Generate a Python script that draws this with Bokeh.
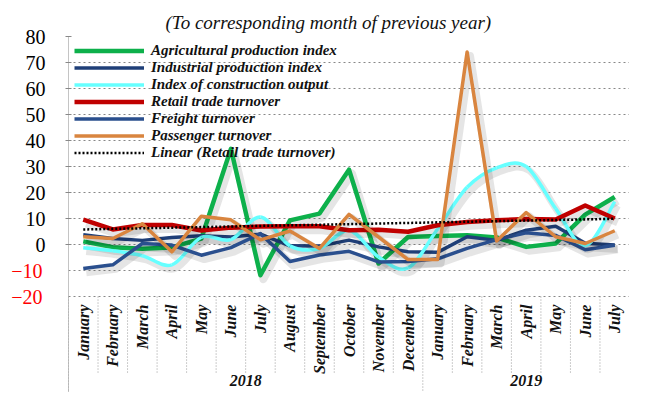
import numpy as np
from bokeh.plotting import figure
from bokeh.models import Range1d, FixedTicker, LinearAxis, Legend, LegendItem
from bokeh.embed import file_html
from bokeh.resources import INLINE
from bokeh.core.properties import value

# ---------------- data ----------------
months = ["January", "February", "March", "April", "May", "June", "July",
          "August", "September", "October", "November", "December",
          "January", "February", "March", "April", "May", "June", "July"]
years = ["2018"] * 12 + ["2019"] * 7

agricultural = [1.2, -1.0, -1.6, -1.1, 2.3, 36.8, -11.8, 9.3, 11.9, 28.8, -7.3, 2.9,
                3.3, 3.6, 2.7, -0.9, 0.4, 11.5, 18.3]
industrial = [3.8, 2.3, 1.6, 2.7, 3.4, 2.9, 4.0, -0.5, -0.6, 1.7, -0.9, -2.8,
              -3.0, 3.0, 1.6, 5.5, 7.0, 0.5, -0.2]
construction = [-1.2, -2.4, -4.3, -7.8, 2.8, 1.9, 10.6, -0.5, -1.5, 5.5, -4.8, -9.0,
                6.0, 22.0, 29.5, 30.0, 13.8, -0.5, 16.5]
retail = [9.6, 5.8, 7.5, 7.5, 5.4, 6.5, 6.9, 7.0, 7.0, 5.5, 5.7, 4.9,
          7.4, 8.7, 9.3, 9.8, 9.6, 15.0, 10.0]
freight = [-9.2, -7.8, 0.4, -0.2, -4.1, -1.2, 4.2, -6.5, -4.0, -2.6, -6.7, -6.5,
           -5.5, -1.5, 1.9, 4.5, 3.5, -2.0, -0.3]
passenger = [3.0, 2.3, 8.0, -2.8, 10.9, 9.5, 1.8, 5.2, -1.5, 11.6, 2.9, -5.8,
             -5.8, 74.0, 1.4, 12.3, 3.0, 0.4, 5.3]

y_ticks_pos = [0, 10, 20, 30, 40, 50, 60, 70, 80]
y_ticks_neg = [-20, -10]

labels = ["Agricultural production index", "Industrial production index",
          "Index of construction output", "Retail trade turnover",
          "Freight turnover", "Passenger turnover",
          "Linear (Retail trade turnover)"]
title_text = "(To corresponding month of previous year)"

# ---------------- styles ----------------
SERIF = "'Liberation Serif', 'Times New Roman', serif"
C_GREEN = "#0DB04B"
C_IND = "#1F3F78"
C_CYAN = "#66FFFF"
C_RED = "#C00000"
C_FREIGHT = "#2A4F8E"
C_ORANGE = "#D9853F"

n = len(months)
xs = np.arange(n) + 0.5
Y_BOTTOM = -56.9

p = figure(width=629, height=392, x_range=Range1d(0, n), y_range=Range1d(Y_BOTTOM, 80),
           x_axis_location=None, y_axis_location="left",
           toolbar_location=None, output_backend="svg",
           min_border_left=68, min_border_right=0, min_border_top=36, min_border_bottom=0,
           outline_line_color=None, background_fill_color="white",
           border_fill_color="white")

p.title.text = title_text
p.title.text_font = SERIF
p.title.text_font_style = "italic"
p.title.text_font_size = "19px"
p.title.text_color = "#111111"
p.title.align = "left"
p.title.offset = 97
p.title.vertical_align = "top"
p.title.standoff = 4

# y axes: inner black positive labels, outer red negative labels
ax = p.yaxis[0]
ax.ticker = FixedTicker(ticks=y_ticks_pos)
ax.major_label_text_font = SERIF
ax.major_label_text_font_size = "20px"
ax.major_label_text_color = "black"
ax.major_label_standoff = 20
ax.major_tick_out = 3
ax.major_tick_in = 3
ax.major_tick_line_color = "#888888"
ax.minor_tick_line_color = None
ax.axis_line_color = "#888888"
ax.axis_line_dash = "1 1"

ax_neg = LinearAxis(ticker=FixedTicker(ticks=y_ticks_neg))
ax_neg.major_label_text_font = SERIF
ax_neg.major_label_text_font_size = "20px"
ax_neg.major_label_text_color = "#FF0000"
ax_neg.major_label_standoff = -20
ax_neg.major_tick_out = 0
ax_neg.major_tick_in = 0
ax_neg.major_tick_line_color = None
ax_neg.minor_tick_line_color = None
ax_neg.axis_line_color = None
p.add_layout(ax_neg, "left")

p.xgrid.visible = False
p.ygrid.ticker = FixedTicker(ticks=y_ticks_neg + y_ticks_pos)
p.ygrid.grid_line_color = "#888888"
p.ygrid.grid_line_dash = "2 3"
p.ygrid.grid_line_width = 1

# category separators and labels (below the -20 line)
bottom_val = y_ticks_neg[0]
bounds = np.arange(n + 1)
year_change = [0] + [i for i in range(1, n) if years[i] != years[i - 1]] + [n]
month_b = [b for b in bounds if b not in year_change]
p.segment(x0=month_b, y0=bottom_val, x1=month_b, y1=bottom_val - 29.5,
          line_color="#999999", line_dash="1 2", line_width=1)
p.segment(x0=year_change, y0=bottom_val, x1=year_change, y1=Y_BOTTOM,
          line_color="#999999", line_dash="1 2", line_width=1)
p.text(x=xs, y=[bottom_val - 3.1] * n, text=months, angle=np.pi / 2,
       text_align="right", text_baseline="middle",
       text_font=value(SERIF), text_font_style="bold italic",
       text_font_size="16px", text_color="#111111")
uniq_years = []
for yv in years:
    if yv not in uniq_years:
        uniq_years.append(yv)
year_x = [float(np.mean([xs[i] for i in range(n) if years[i] == yv])) for yv in uniq_years]
p.text(x=year_x, y=[bottom_val - 32.2] * len(uniq_years), text=uniq_years,
       text_align="center", text_baseline="middle",
       text_font=value(SERIF), text_font_style="bold italic",
       text_font_size="16px", text_color="#111111")

# shadows offsets (px -> data)
SDX, SDY = 0.1, -1.5


def shadow_line(yv):
    p.line(xs + SDX, np.array(yv) + SDY, line_color="black", line_alpha=0.10,
           line_width=8, line_join="round")


renderers = []

shadow_line(agricultural)
renderers.append(p.line(xs, agricultural, line_color=C_GREEN, line_width=4.5, line_join="round"))

shadow_line(industrial)
renderers.append(p.line(xs, industrial, line_color=C_IND, line_width=3.5, line_join="round"))

# smoothed construction line via cubic Bezier segments
c = np.array(construction, dtype=float)
i = np.arange(n - 1)
im = np.clip(i - 1, 0, n - 1)
i2 = np.clip(i + 2, 0, n - 1)
bx0, by0 = xs[i], c[i]
bx1, by1 = xs[i + 1], c[i + 1]
bcx0 = xs[i] + (xs[i + 1] - xs[im]) / 6.0
bcy0 = c[i] + (c[i + 1] - c[im]) / 6.0
bcx1 = xs[i + 1] - (xs[i2] - xs[i]) / 6.0
bcy1 = c[i + 1] - (c[i2] - c[i]) / 6.0
p.bezier(x0=bx0 + SDX, y0=by0 + SDY, x1=bx1 + SDX, y1=by1 + SDY,
         cx0=bcx0 + SDX, cy0=bcy0 + SDY, cx1=bcx1 + SDX, cy1=bcy1 + SDY,
         line_color="black", line_alpha=0.10, line_width=7)
renderers.append(p.bezier(x0=bx0, y0=by0, x1=bx1, y1=by1, cx0=bcx0, cy0=bcy0,
                          cx1=bcx1, cy1=bcy1, line_color=C_CYAN, line_width=3.5))

shadow_line(retail)
renderers.append(p.line(xs, retail, line_color=C_RED, line_width=4.5, line_join="round"))

shadow_line(freight)
renderers.append(p.line(xs, freight, line_color=C_FREIGHT, line_width=3.5, line_join="round"))

shadow_line(passenger)
renderers.append(p.line(xs, passenger, line_color=C_ORANGE, line_width=3.5, line_join="round"))

# linear trend of retail trade turnover
coef = np.polyfit(np.arange(n), np.array(retail), 1)
trend = np.polyval(coef, np.arange(n))
renderers.append(p.line(xs, trend, line_color="black", line_width=2.5, line_dash="2 2"))

legend = Legend(items=[LegendItem(label=lab, renderers=[r]) for lab, r in zip(labels, renderers)],
                location=(6, 231), orientation="vertical")
legend.label_text_font = SERIF
legend.label_text_font_style = "bold italic"
legend.label_text_font_size = "15px"
legend.label_text_color = "#111111"
legend.glyph_width = 70
legend.glyph_height = 15
legend.label_height = 15
legend.spacing = 0
legend.padding = 6
legend.margin = 0
legend.label_standoff = 7
legend.border_line_color = None
legend.background_fill_alpha = 0
p.add_layout(legend)

open("out.html", "w").write(file_html(p, INLINE))
